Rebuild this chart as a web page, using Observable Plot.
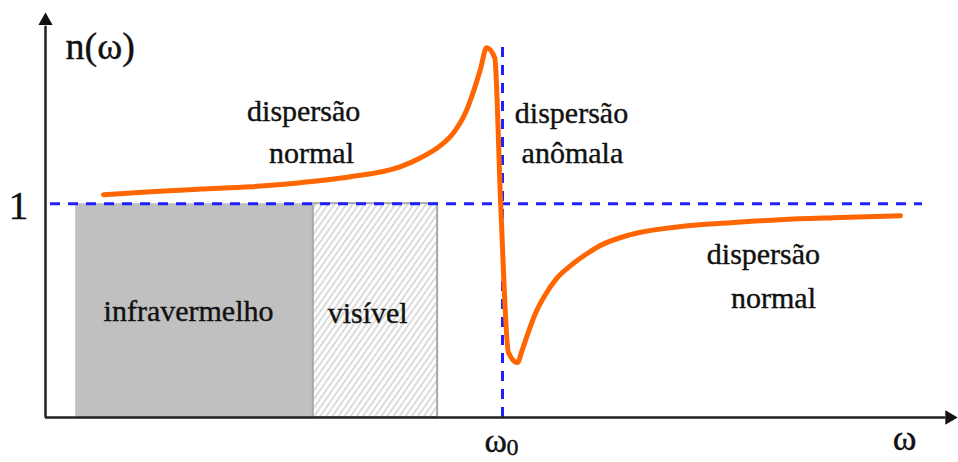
<!DOCTYPE html>
<html><head><meta charset="utf-8">
<script src="https://cdn.jsdelivr.net/npm/d3@7"></script>
<script src="https://cdn.jsdelivr.net/npm/@observablehq/plot@0.6"></script>
<style>body{margin:0;background:#fff} svg{display:block} svg text{font-family:'Liberation Serif','Times New Roman',serif}</style>
</head><body><div id="chart"></div>
<script>
// refractive index curve n(ω), ω in units of ω0
const curveOmega = [0.127,0.230,0.339,0.449,0.558,0.667,0.777,0.821,0.864,0.893,0.919,0.937,0.952,0.965,0.983,0.996,1.013,1.033,1.042,1.057,1.072,1.094,1.120,1.149,1.182,1.214,1.280,1.390,1.499,1.608,1.740,1.871];
const curveN     = [1.042,1.056,1.068,1.079,1.098,1.126,1.173,1.215,1.271,1.332,1.425,1.528,1.631,1.729,1.682,1.000,0.304,0.257,0.308,0.402,0.486,0.575,0.654,0.710,0.762,0.804,0.855,0.893,0.911,0.925,0.935,0.944];

// spectral regions
const regionNames = ["infravermelho","visível"];
const regionStart = [0.066,0.586];
const regionEnd   = [0.586,0.858];

// annotation texts and their anchors (data units)
const labelText  = ["dispersão","normal","dispersão","anômala","dispersão","normal","infravermelho","visível"];
const labelOmega = [0.565,0.582,1.151,1.153,1.571,1.593,0.313,0.705];
const labelN     = [1.430,1.234,1.421,1.234,0.762,0.556,0.495,0.486];

const omega0 = 1;
const nRef = 1;

const region = regionNames.map((name,i)=>({name, x1: regionStart[i], x2: regionEnd[i]}));
const curve = curveOmega.map((w,i)=>({w, n: curveN[i]}));

const fontFam = "Liberation Serif";
const txt = {fontFamily:fontFam, fill:"#111", stroke:"#111", strokeWidth:0.4};
const plot = Plot.plot({
  width: 958, height: 462,
  margin: 0,
  x: {domain:[0,2], range:[45,959], axis:null},
  y: {domain:[0,1.95], range:[417,0], axis:null},
  style: {fontFamily: fontFam, background:"#fff"},
  marks: [
    Plot.rect(region.slice(0,1), {x1:"x1", x2:"x2", y1:0, y2:nRef, fill:"#c0c0c0"}),
    Plot.rect(region.slice(1), {x1:"x1", x2:"x2", y1:0, y2:nRef, fill:"url(#hatch)", stroke:"#a8a8a8", strokeWidth:2}),
    Plot.ruleY([nRef], {x1:0.011, x2:1.919, stroke:"#2020ff", strokeWidth:3, strokeDasharray:"10,8"}),
    Plot.ruleX([omega0], {y1:0, y2:1.752, stroke:"#2020ff", strokeWidth:3, strokeDasharray:"10,8"}),
    Plot.line(curve, {x:"w", y:"n", stroke:"#ff6600", strokeWidth:5, curve:"monotone-x", strokeLinejoin:"round"}),
    // axes
    Plot.ruleX([0], {y1:-0.002, y2:1.83, stroke:"#222", strokeWidth:2.5}),
    Plot.ruleY([0], {x1:0, x2:1.97, stroke:"#222", strokeWidth:2.5}),
    Plot.dot([0], {x:0, y:1.855, symbol:"triangle", r:5.3, fill:"#111", stroke:"none"}),
    Plot.dot([0], {x:1.978, y:0, symbol:"triangle", r:5.3, rotate:90, fill:"#111", stroke:"none"}),
    // texts
    Plot.text(labelText, {x:(d,i)=>labelOmega[i], y:(d,i)=>labelN[i], text:d=>d, fontSize:30, ...txt}),
    Plot.text(["n(ω)"], {x:0.044, y:1.734, text:d=>d, fontSize:38, textAnchor:"start", ...txt}),
    Plot.text(["1"], {x:-0.059, y:0.99, text:d=>d, fontSize:40, ...txt}),
    Plot.text(["ω"], {x:1.880, y:-0.100, text:d=>d, fontSize:36, ...txt}),
    Plot.text(["ω"], {x:0.985, y:-0.112, text:d=>d, fontSize:34, ...txt}),
    Plot.text(["0"], {x:1.022, y:-0.138, text:d=>d, fontSize:24, ...txt})
  ]
});
d3.select(plot).insert("defs", ":first-child").html(
  `<pattern id="hatch" patternUnits="userSpaceOnUse" width="5" height="5" patternTransform="rotate(35)">
     <rect width="5" height="5" fill="#fff"/>
     <line x1="1" y1="0" x2="1" y2="5" stroke="#d2d2d2" stroke-width="1.6"/>
   </pattern>`);
document.getElementById("chart").append(plot);
</script>
</body></html>
